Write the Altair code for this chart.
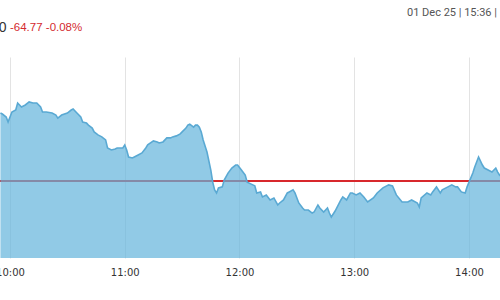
import altair as alt
import pandas as pd

times = ["09:55","09:56","09:58","09:59","10:01","10:03","10:04","10:06","10:08","10:10",
         "10:12","10:14","10:16","10:17","10:19","10:22","10:24","10:25","10:27","10:30",
         "10:32","10:33","10:35","10:37","10:38","10:40","10:41","10:43","10:44","10:46",
         "10:48","10:50","10:51","10:53","10:55","10:56","10:59","11:00","11:01","11:02",
         "11:04","11:05","11:07","11:09","11:11","11:12","11:15","11:17","11:18","11:20",
         "11:22","11:24","11:25","11:27","11:29","11:30","11:32","11:33","11:34","11:36",
         "11:37","11:38","11:39","11:40","11:41","11:43","11:45","11:46","11:47","11:48",
         "11:49","11:51","11:52","11:54","11:56","11:58","11:59","12:01","12:03","12:04",
         "12:07","12:08","12:09","12:11","12:12","12:14","12:16","12:18","12:20","12:21",
         "12:23","12:25","12:26","12:28","12:29","12:31","12:33","12:34","12:36","12:38",
         "12:39","12:41","12:42","12:44","12:46","12:47","12:48","12:50","12:53","12:54",
         "12:56","12:58","12:59","13:01","13:03","13:05","13:07","13:10","13:12","13:15",
         "13:18","13:20","13:22","13:25","13:28","13:30","13:33","13:34","13:35","13:38",
         "13:40","13:41","13:43","13:45","13:46","13:49","13:51","13:53","13:54","13:56",
         "13:58","13:59","14:02","14:03","14:05","14:07","14:08","14:10","14:12","14:14",
         "14:15","14:16","14:18","14:20"]
values = [85977,85973,85961,85941,85981,85989,86017,86001,86009,86021,
          86017,86017,86001,85981,85981,85977,85969,85957,85969,85977,
          85989,85993,85977,85961,85941,85937,85929,85917,85902,85890,
          85882,85870,85838,85830,85834,85838,85838,85850,85830,85802,
          85798,85802,85810,85818,85838,85850,85866,85862,85858,85862,
          85878,85878,85882,85886,85894,85902,85917,85929,85933,85921,
          85929,85929,85921,85902,85870,85822,85750,85702,85671,85659,
          85679,85683,85710,85738,85758,85770,85770,85750,85730,85702,
          85691,85687,85659,85663,85643,85651,85631,85639,85611,85619,
          85631,85659,85663,85671,85659,85619,85599,85591,85591,85579,
          85583,85611,85599,85583,85599,85579,85563,85587,85631,85643,
          85631,85659,85659,85651,85659,85643,85623,85639,85659,85679,
          85691,85687,85651,85623,85623,85631,85619,85603,85639,85659,
          85651,85663,85683,85659,85671,85683,85691,85683,85683,85663,
          85659,85683,85738,85762,85802,85770,85758,85750,85742,85758,
          85742,85730,85718,85726]
prev_close = 85706.67
hour_ticks = [0, 60, 120, 180, 240]          # minutes after 10:00
level_ticks = [85400, 85600, 85800, 86000, 86200]
last_price = "85,641.90"
change_text = "-64.77 -0.08%"
stamp_text = "01 Dec 25 | 15:36 |"

df = pd.DataFrame({"time": times, "value": values})
df["minute"] = df["time"].apply(lambda s: (int(s[:2]) - 10) * 60 + int(s[3:]))

grid_color = "#e3e3e3"
xscale = alt.Scale(domain=[-5.229, 256.21], nice=False, zero=False)
yscale = alt.Scale(domain=[85400, 86200], nice=False, zero=False)

xenc = alt.X("minute:Q", scale=xscale,
             axis=alt.Axis(values=hour_ticks, title=None, grid=True, gridColor=grid_color,
                           domain=False, ticks=False, labelPadding=9, labelFlush=False,
                           labelFont="DejaVu Sans", labelFontSize=10, labelColor="#333333",
                           labelExpr="toString(10 + datum.value/60) + ':00'"))
yenc = alt.Y("value:Q", scale=yscale,
             axis=alt.Axis(values=level_ticks, labels=False, ticks=False, domain=False,
                           title=None, grid=True, gridColor=grid_color))

base = alt.Chart(df)

rule = alt.Chart(pd.DataFrame({"v": [prev_close]})).mark_rule(
    color="#d8282c", strokeWidth=2).encode(y=alt.Y("v:Q", scale=yscale, axis=None))

area = base.mark_area(color="#62b3dc", opacity=0.7, clip=True).encode(x=xenc, y=yenc)
line = base.mark_line(color="#5aa9d3", strokeWidth=1.6, clip=True).encode(x=xenc, y=yenc)

price = alt.Chart(pd.DataFrame({"t": [last_price]})).mark_text(
    align="right", baseline="middle", font="Liberation Sans", fontSize=14,
    color="#333333").encode(text="t:N", x=alt.value(6.5), y=alt.value(-29))
change = alt.Chart(pd.DataFrame({"t": [change_text]})).mark_text(
    align="left", baseline="middle", font="Liberation Sans", fontSize=11.5,
    color="#d42a2f").encode(text="t:N", x=alt.value(10), y=alt.value(-29))
stamp = alt.Chart(pd.DataFrame({"t": [stamp_text]})).mark_text(
    align="left", baseline="middle", font="Roboto", fontSize=11,
    color="#555555").encode(text="t:N", x=alt.value(407), y=alt.value(-44))

chart = alt.layer(rule, area, line, price, change, stamp).properties(
    width=500, height=201,
    padding={"left": 0, "right": 0, "top": 57, "bottom": 42},
    autosize=alt.AutoSizeParams(type="none"),
    background="white",
).configure_view(stroke=None)

chart.save("out.html", embed_options={"renderer": "svg", "actions": False})
